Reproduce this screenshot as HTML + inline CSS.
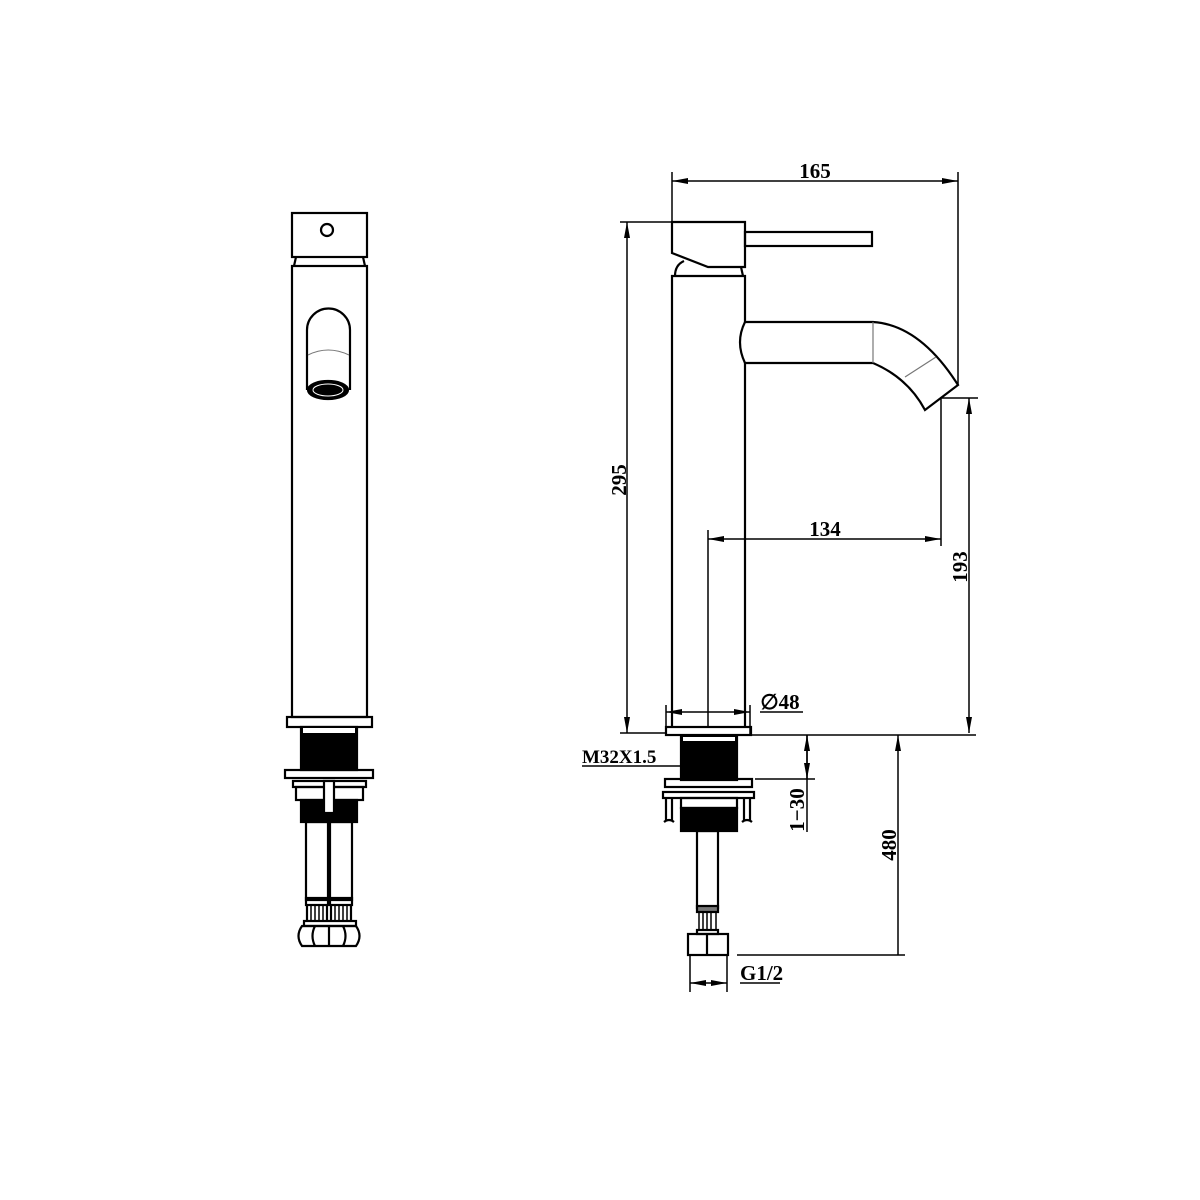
<!DOCTYPE html>
<html><head><style>body{margin:0;background:#fff}svg{display:block}text{font-family:"Liberation Serif",serif;font-weight:bold;font-size:21px;fill:#000}</style></head>
<body>
<svg width="1200" height="1200" viewBox="0 0 1200 1200" xmlns="http://www.w3.org/2000/svg">
<defs>
<marker id="a" viewBox="0 0 16 6" refX="16" refY="3" markerWidth="16" markerHeight="6" orient="auto-start-reverse" markerUnits="userSpaceOnUse"><path d="M0,0L16,3L0,6z"/></marker>
</defs>
<g fill="none" stroke="#000" stroke-width="2.2">
<!-- LEFT VIEW -->
<rect x="292" y="213" width="75" height="44"/>
<circle cx="327" cy="230" r="6"/>
<path d="M296,257L294,266M363,257L365,266"/>
<rect x="292" y="266" width="75" height="451"/>
<path d="M307,390V330A21,21 0 0 1 350,330V390"/>
<path d="M308,355Q328,345 349,355" stroke="#777" stroke-width="1"/>
<ellipse cx="328" cy="390" rx="20" ry="9" fill="#000"/>
<ellipse cx="328" cy="390" rx="15" ry="6" stroke="#fff" stroke-width="1"/>
<rect x="287" y="717" width="85" height="10"/>
<rect x="301" y="727" width="56" height="43" fill="#000"/>
<rect x="303" y="728" width="52" height="5" fill="#fff" stroke="none"/>
<rect x="285" y="770" width="88" height="8"/>
<rect x="293" y="781" width="73" height="6"/>
<rect x="296" y="787" width="67" height="13"/>
<rect x="301" y="800" width="56" height="22" fill="#000"/>
<rect x="324" y="781" width="10" height="32" fill="#fff"/>
<rect x="306" y="822" width="22" height="78"/>
<rect x="330" y="822" width="22" height="78"/>
<rect x="306" y="898" width="22" height="7"/><rect x="330" y="898" width="22" height="7"/>
<path d="M307,905V922M351,905V922M331,905V922M327,905V922" />
<path d="M311,906V921M315,906V921M319,906V921M323,906V921M335,906V921M339,906V921M343,906V921M347,906V921" stroke-width="1.5"/>
<rect x="304" y="921" width="52" height="5"/>
<path d="M302,926H356Q363,936 356,946H302Q295,936 302,926Z"/>
<path d="M315,926Q310,936 315,946M329,926V946M343,926Q348,936 343,946"/>
<!-- RIGHT VIEW -->
<path d="M672,222H745V267H708L672,253Z"/>
<rect x="745" y="232" width="127" height="14"/>
<path d="M675,276Q675,265 684,261M741,267L743,276"/>
<path d="M672,727V276H745V727"/>
<path d="M745,322H873Q920,325 958,385L925,410Q908,378 873,363H745Q735,342 745,322Z" fill="#fff"/>
<path d="M873,322V363M905,377L936,357" stroke="#777" stroke-width="1.2"/>
<rect x="666" y="727" width="85" height="8"/>
<rect x="681" y="736" width="56" height="44" fill="#000"/>
<rect x="683" y="737" width="52" height="4" fill="#fff" stroke="none"/>
<rect x="665" y="779" width="87" height="8"/>
<rect x="663" y="792" width="91" height="6"/>
<path d="M666,798V820M672,798V820M744,798V820M750,798V820M664,822Q669,818 674,822M742,822Q747,818 752,822"/>
<rect x="681" y="798" width="56" height="10"/>
<rect x="681" y="808" width="56" height="23" fill="#000"/>
<rect x="697" y="831" width="21" height="77"/>
<rect x="697" y="906" width="21" height="6" fill="#777"/>
<path d="M699,912V930M716,912V930M703,913V929M707,913V929M711,913V929" stroke-width="1.5"/>
<rect x="697" y="930" width="21" height="4"/>
<rect x="688" y="934" width="40" height="21"/>
<path d="M707,934V955"/>
<!-- DIMENSIONS -->
<g stroke-width="1.5">
<path d="M672,172V222M958,172V385M620,222H672M620,733H666M752,735H976M940,398H978M941,398V546M708,530V727M666,705V735M750,705V735M582,766H680M740,983H780M755,779H815M807,735V832M737,955H905M690,955V992M727,955V992M760,712H803"/>
<path d="M672,181H958" marker-start="url(#a)" marker-end="url(#a)"/>
<path d="M627,222V733" marker-start="url(#a)" marker-end="url(#a)"/>
<path d="M969,398V733" marker-start="url(#a)" marker-end="url(#a)"/>
<path d="M708,539H941" marker-start="url(#a)" marker-end="url(#a)"/>
<path d="M666,712H750" marker-start="url(#a)" marker-end="url(#a)"/>
<path d="M807,735V779" marker-start="url(#a)" marker-end="url(#a)"/>
<path d="M898,735V955" marker-start="url(#a)"/>
<path d="M690,983H727" marker-start="url(#a)" marker-end="url(#a)"/>
</g>
</g>
<text x="815" y="178" text-anchor="middle">165</text>
<text x="825" y="536" text-anchor="middle">134</text>
<text x="780" y="709" text-anchor="middle">∅48</text>
<text x="619" y="480" text-anchor="middle" transform="rotate(-90 619 480)" dy="7">295</text>
<text x="960" y="567" text-anchor="middle" transform="rotate(-90 960 567)" dy="7">193</text>
<text x="797" y="810" text-anchor="middle" transform="rotate(-90 797 810)" dy="7">1−30</text>
<text x="889" y="845" text-anchor="middle" transform="rotate(-90 889 845)" dy="7">480</text>
<text x="582" y="763" style="font-size:19px">M32X1.5</text>
<text x="740" y="980">G1/2</text>
</svg>
</body></html>
